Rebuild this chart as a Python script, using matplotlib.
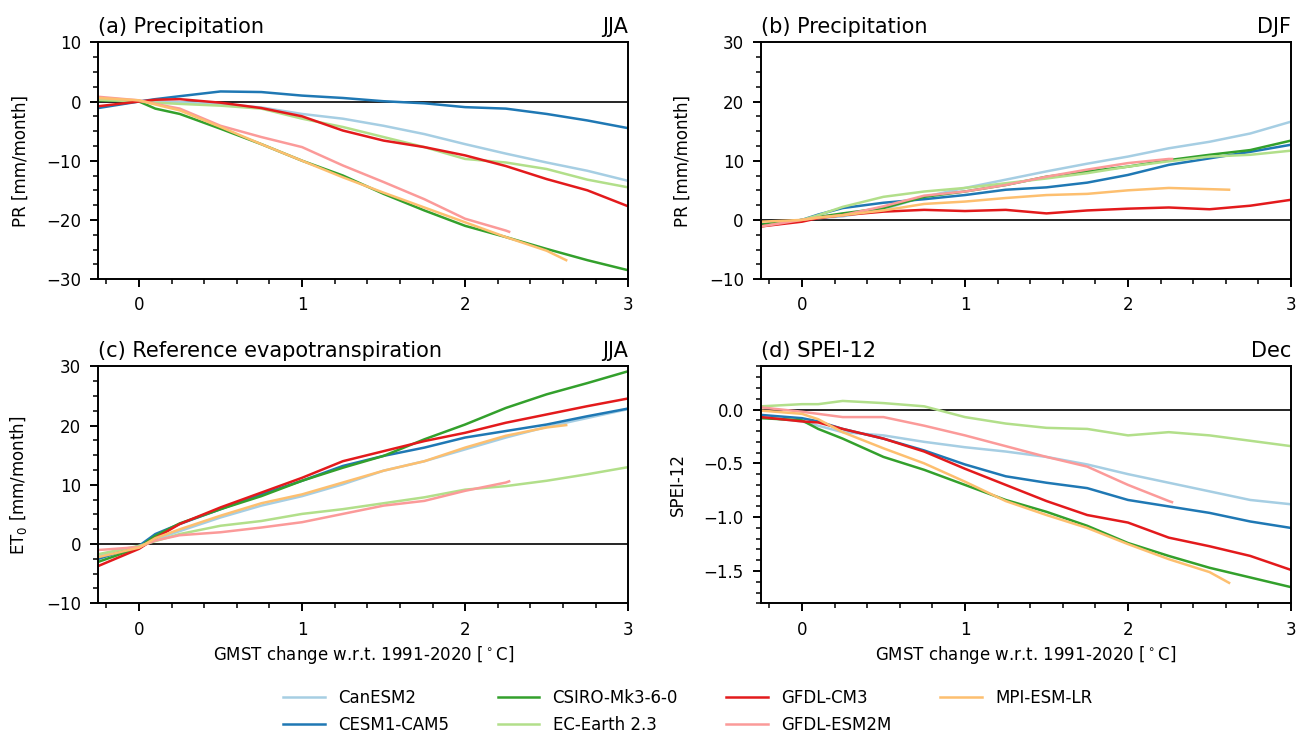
"""
Regional change per degree of global warming
=============================================
Multi-model precipitation, reference evapotranspiration and SPEI-12
plotted against GMST change w.r.t. 1991-2020.
"""

import numpy as np
import matplotlib.pyplot as plt
from matplotlib.ticker import MultipleLocator, AutoMinorLocator

# ============================================================================
# Data
# ============================================================================

MODELS = ['CanESM2', 'CESM1-CAM5', 'CSIRO-Mk3-6-0', 'EC-Earth 2.3',
          'GFDL-CM3', 'GFDL-ESM2M', 'MPI-ESM-LR']

COLORS = {
    'CanESM2': '#a6cee3',
    'CESM1-CAM5': '#1f78b4',
    'CSIRO-Mk3-6-0': '#33a02c',
    'EC-Earth 2.3': '#b2df8a',
    'GFDL-CM3': '#e31a1c',
    'GFDL-ESM2M': '#fb9a99',
    'MPI-ESM-LR': '#fdbf6f',
}

# GMST change sample points; shorter runs stop at their own end value
X_GRID = [-0.25, 0.0, 0.1, 0.25, 0.5, 0.75, 1.0, 1.25, 1.5, 1.75,
          2.0, 2.25, 2.5, 2.75, 3.0]
X_END = {'GFDL-ESM2M': 2.27, 'MPI-ESM-LR': 2.62}

# (a) precipitation JJA [mm/month]
PR_JJA = {
    'CanESM2': [0.4, 0.0, 0.0, -0.1, -0.4, -1.0, -2.1, -2.9, -4.1, -5.5, -7.2, -8.8, -10.3, -11.7, -13.4],
    'CESM1-CAM5': [-1.1, 0.0, 0.4, 0.9, 1.7, 1.6, 1.0, 0.6, 0.05, -0.3, -0.95, -1.2, -2.1, -3.2, -4.5],
    'CSIRO-Mk3-6-0': [0.2, 0.0, -1.2, -2.1, -4.6, -7.2, -10.0, -12.5, -15.6, -18.4, -21.0, -22.9, -24.9, -26.8, -28.5],
    'EC-Earth 2.3': [0.3, 0.0, -0.2, -0.4, -0.7, -1.2, -2.9, -4.3, -6.0, -7.7, -9.7, -10.3, -11.4, -13.2, -14.5],
    'GFDL-CM3': [-0.8, 0.0, 0.3, 0.4, -0.2, -1.1, -2.5, -4.9, -6.6, -7.7, -9.1, -10.9, -13.1, -15.0, -17.7],
    'GFDL-ESM2M': [0.8, 0.2, -0.4, -1.2, -4.1, -6.0, -7.7, -10.8, -13.6, -16.5, -19.8, -21.8, -22.0],
    'MPI-ESM-LR': [0.6, 0.2, -0.5, -1.5, -4.3, -7.2, -10.0, -12.8, -15.4, -17.9, -20.4, -22.9, -25.2, -26.8],
}

# (b) precipitation DJF [mm/month]
PR_DJF = {
    'CanESM2': [-0.8, 0.0, 0.3, 0.6, 1.8, 3.9, 5.4, 6.8, 8.2, 9.5, 10.7, 12.1, 13.2, 14.6, 16.6],
    'CESM1-CAM5': [-0.8, 0.0, 0.9, 2.0, 2.9, 3.5, 4.2, 5.1, 5.5, 6.3, 7.6, 9.3, 10.4, 11.5, 12.7],
    'CSIRO-Mk3-6-0': [-0.8, 0.0, 0.5, 1.1, 2.0, 3.9, 4.8, 5.9, 7.3, 8.2, 9.0, 10.1, 11.0, 11.8, 13.4],
    'EC-Earth 2.3': [-1.1, 0.0, 0.8, 2.2, 3.9, 4.8, 5.4, 6.2, 7.0, 7.9, 9.0, 9.9, 10.7, 11.0, 11.7],
    'GFDL-CM3': [-1.1, -0.3, 0.3, 0.8, 1.4, 1.7, 1.5, 1.7, 1.1, 1.6, 1.9, 2.1, 1.8, 2.4, 3.4],
    'GFDL-ESM2M': [-1.1, 0.0, 0.4, 0.8, 2.3, 4.1, 4.8, 5.9, 7.3, 8.5, 9.6, 10.3, 10.3],
    'MPI-ESM-LR': [-0.3, 0.0, 0.4, 0.8, 1.6, 2.7, 3.1, 3.7, 4.2, 4.4, 5.0, 5.4, 5.2, 5.1],
}

# (c) reference evapotranspiration JJA [mm/month]
ET0_JJA = {
    'CanESM2': [-2.0, -0.6, 0.8, 2.2, 4.5, 6.5, 8.1, 10.1, 12.4, 14.0, 16.0, 18.0, 19.8, 21.3, 22.8],
    'CESM1-CAM5': [-2.5, -0.3, 1.7, 3.4, 5.9, 8.4, 10.7, 13.2, 14.9, 16.3, 18.0, 19.1, 20.2, 21.6, 22.9],
    'CSIRO-Mk3-6-0': [-3.0, -0.6, 1.4, 3.5, 5.9, 8.1, 10.7, 12.9, 14.9, 17.7, 20.2, 23.0, 25.3, 27.2, 29.2],
    'EC-Earth 2.3': [-1.7, -0.3, 0.5, 1.7, 3.1, 3.9, 5.1, 5.9, 6.9, 7.9, 9.2, 9.8, 10.7, 11.8, 13.0],
    'GFDL-CM3': [-3.7, -0.8, 1.0, 3.4, 6.2, 8.7, 11.2, 14.0, 15.7, 17.4, 18.8, 20.5, 21.9, 23.3, 24.6],
    'GFDL-ESM2M': [-1.0, -0.5, 0.6, 1.5, 2.0, 2.8, 3.7, 5.1, 6.5, 7.3, 9.0, 10.4, 10.6],
    'MPI-ESM-LR': [-2.2, -0.6, 1.0, 2.5, 4.8, 6.9, 8.4, 10.4, 12.4, 14.0, 16.3, 18.3, 19.7, 20.1],
}

# (d) SPEI-12 December
SPEI_DEC = {
    'CanESM2': [-0.07, -0.11, -0.15, -0.21, -0.24, -0.30, -0.35, -0.39, -0.44, -0.51, -0.60, -0.68, -0.76, -0.84, -0.88],
    'CESM1-CAM5': [-0.05, -0.08, -0.11, -0.18, -0.27, -0.38, -0.51, -0.62, -0.68, -0.73, -0.84, -0.90, -0.96, -1.04, -1.10],
    'CSIRO-Mk3-6-0': [-0.08, -0.10, -0.18, -0.27, -0.44, -0.56, -0.70, -0.84, -0.95, -1.08, -1.24, -1.36, -1.47, -1.56, -1.65],
    'EC-Earth 2.3': [0.03, 0.05, 0.05, 0.08, 0.06, 0.03, -0.07, -0.13, -0.17, -0.18, -0.24, -0.21, -0.24, -0.29, -0.34],
    'GFDL-CM3': [-0.07, -0.11, -0.12, -0.18, -0.27, -0.39, -0.55, -0.70, -0.85, -0.98, -1.05, -1.19, -1.27, -1.36, -1.49],
    'GFDL-ESM2M': [0.02, -0.02, -0.04, -0.07, -0.07, -0.15, -0.24, -0.34, -0.44, -0.53, -0.70, -0.85, -0.86],
    'MPI-ESM-LR': [-0.01, -0.04, -0.09, -0.21, -0.36, -0.50, -0.67, -0.85, -0.98, -1.10, -1.25, -1.39, -1.51, -1.61],
}

XLABEL = r'GMST change w.r.t. 1991-2020 [$^\circ$C]'

# ============================================================================
# Figure
# ============================================================================

plt.rcParams['font.family'] = 'DejaVu Sans'
plt.rcParams['font.size'] = 12


def model_x(model):
    """Sample points for one model (short runs end early)"""
    if model not in X_END:
        return X_GRID
    end = X_END[model]
    return [g for g in X_GRID if g < end - 0.01] + [end]


def draw_panel(ax, data, title, season, ylabel, ylim, major, minor_div):
    for model in MODELS:
        ax.plot(model_x(model), data[model], color=COLORS[model],
                linewidth=1.8, label=model)
    ax.axhline(0, color='black', linewidth=1.2, zorder=0.5)

    ax.set_xlim(-0.25, 3)
    ax.set_ylim(*ylim)
    ax.xaxis.set_major_locator(MultipleLocator(1))
    ax.xaxis.set_minor_locator(AutoMinorLocator(5))
    ax.yaxis.set_major_locator(MultipleLocator(major))
    ax.yaxis.set_minor_locator(AutoMinorLocator(minor_div))
    ax.tick_params(which='major', length=6, width=1.4, labelsize=12, pad=6.5)
    ax.tick_params(which='minor', length=3.5, width=1.1)
    for sp in ax.spines.values():
        sp.set_linewidth(1.4)

    ax.set_title(title, loc='left', fontsize=15, pad=7)
    ax.set_title(season, loc='right', fontsize=15, pad=7)
    ax.set_ylabel(ylabel, fontsize=12, labelpad=12)


fig, axes = plt.subplots(2, 2, figsize=(13.05, 7.36), dpi=100)
fig.subplots_adjust(left=0.0753, right=0.9893, top=0.9425, bottom=0.1803,
                    wspace=0.251, hspace=0.369)

draw_panel(axes[0, 0], PR_JJA, '(a) Precipitation', 'JJA',
           'PR [mm/month]', (-30, 10), 10, 4)
draw_panel(axes[0, 1], PR_DJF, '(b) Precipitation', 'DJF',
           'PR [mm/month]', (-10, 30), 10, 4)
draw_panel(axes[1, 0], ET0_JJA, '(c) Reference evapotranspiration', 'JJA',
           r'ET$_0$ [mm/month]', (-10, 30), 10, 4)
draw_panel(axes[1, 1], SPEI_DEC, '(d) SPEI-12', 'Dec',
           'SPEI-12', (-1.8, 0.4), 0.5, 5)

axes[1, 0].set_xlabel(XLABEL, fontsize=12)
axes[1, 1].set_xlabel(XLABEL, fontsize=12)

handles, labels = axes[0, 0].get_legend_handles_labels()
fig.legend(handles, labels, loc='center', bbox_to_anchor=(0.527, 0.033),
           ncol=4, frameon=False, fontsize=12, handlelength=2.5,
           columnspacing=2.9, labelspacing=0.55)

fig.savefig('out.png', dpi=100)
plt.close(fig)
